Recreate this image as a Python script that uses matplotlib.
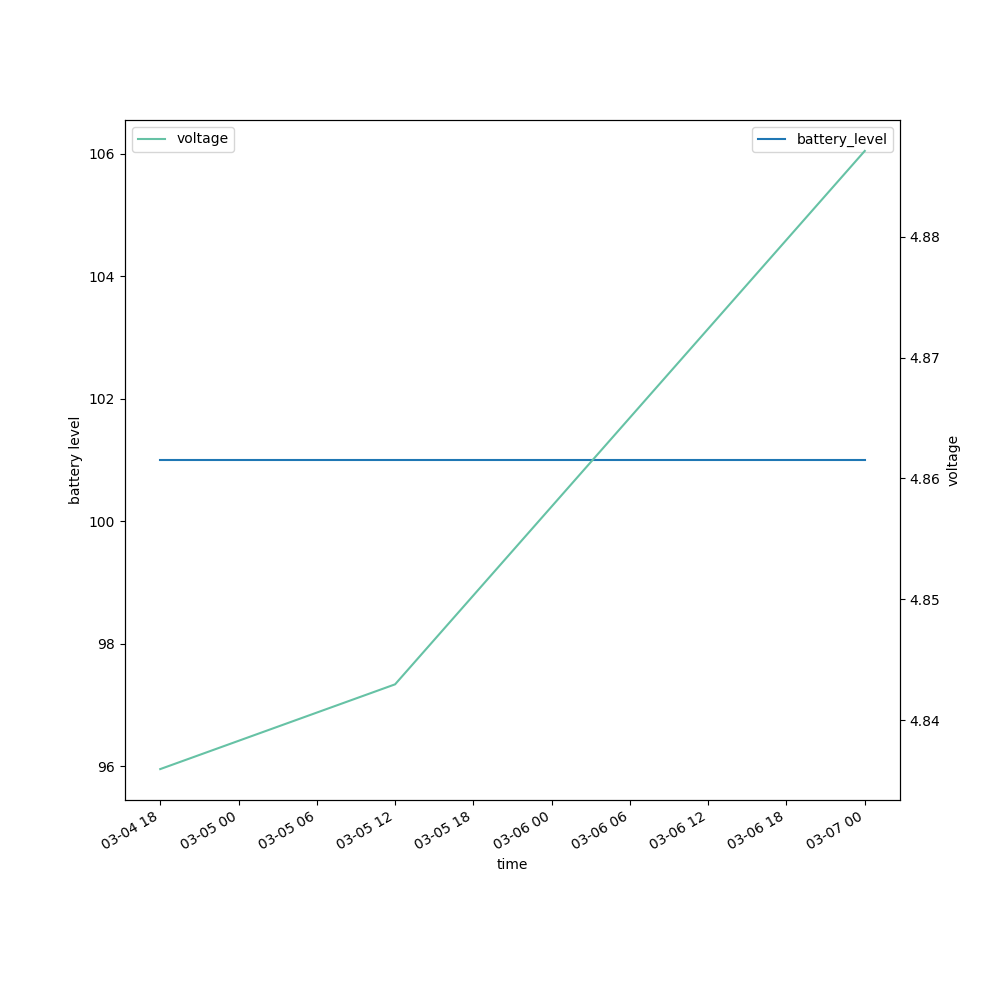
import matplotlib
matplotlib.use("Agg")
import matplotlib.pyplot as plt
import matplotlib.dates as mdates
import pandas as pd

times = pd.to_datetime(["2024-03-04 18:00", "2024-03-05 12:00", "2024-03-07 00:00"])
battery_level = [101, 101, 101]
voltage = [4.83596, 4.84297, 4.88709]

fig, ax = plt.subplots(figsize=(10, 10), dpi=100)
ax.plot(times, battery_level, color="#1f77b4", label="battery_level")
ax.set_ylabel("battery level")
ax.set_xlabel("time")
ax.legend(loc="upper right")

ax2 = ax.twinx()
ax2.plot(times, voltage, color="#66c2a5", label="voltage")
ax2.set_ylabel("voltage")
ax2.legend(loc="upper left")

ax.xaxis.set_major_locator(mdates.HourLocator(byhour=[0, 6, 12, 18]))
ax.xaxis.set_major_formatter(mdates.DateFormatter("%m-%d %H"))
fig.autofmt_xdate()

fig.savefig("out.png")
